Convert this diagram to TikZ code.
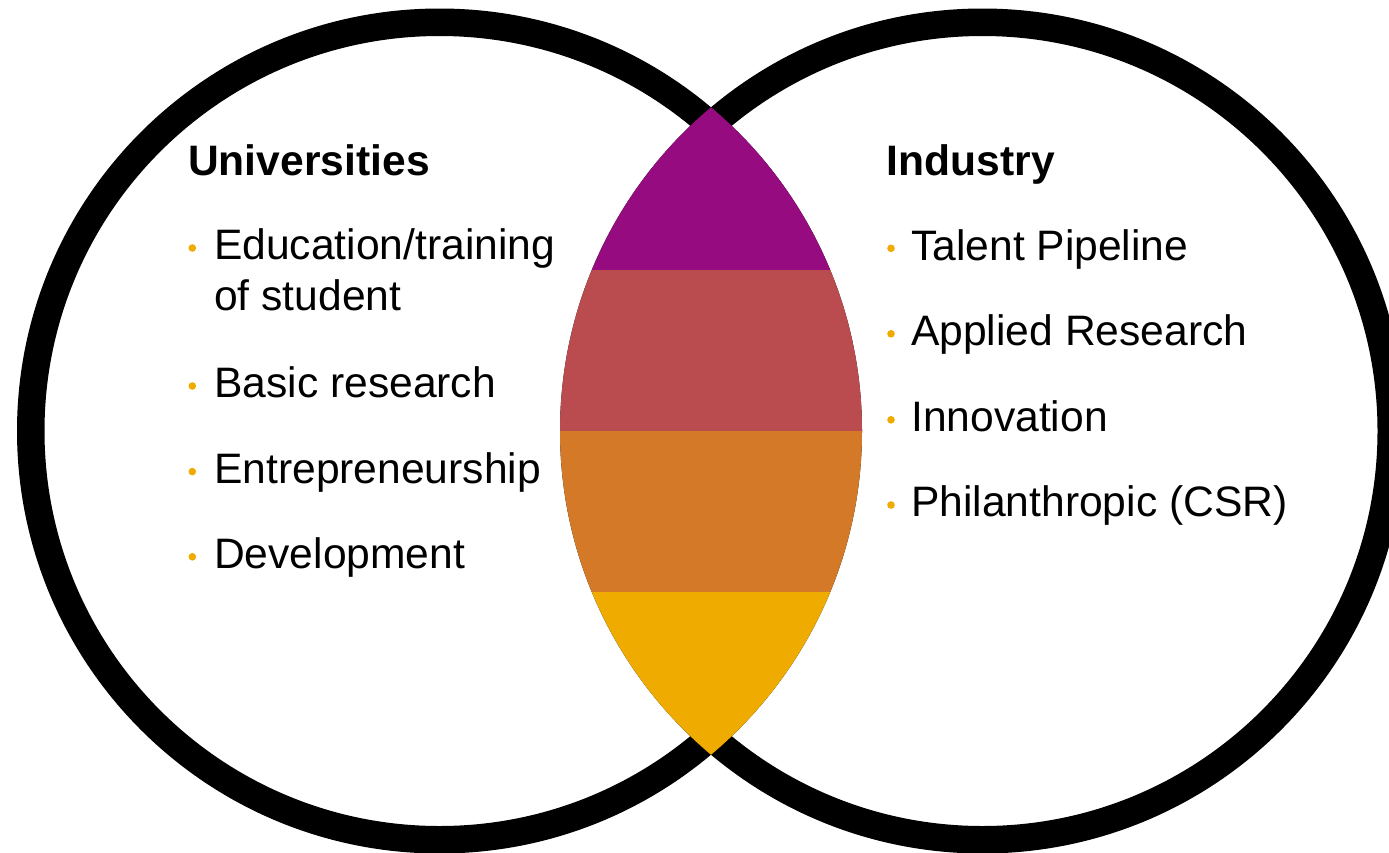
\documentclass[tikz,border=0pt]{standalone}
\usepackage{fontspec}
\setmainfont{Liberation Sans}
\definecolor{lpurple}{HTML}{960C80}
\definecolor{lred}{HTML}{BA4B4E}
\definecolor{lorange}{HTML}{D47928}
\definecolor{lyellow}{HTML}{F0AB00}
\definecolor{bulletc}{HTML}{F0AB00}
\tikzset{
  ring/.style={draw=black, line width=27.5pt},
  title/.style={anchor=base west, inner sep=0pt, font=\fontsize{42.6}{43}\selectfont\bfseries},
  item/.style={anchor=base west, inner sep=0pt, font=\fontsize{42.6}{43}\selectfont},
  dot/.style={fill=bulletc}
}
\begin{document}
\begin{tikzpicture}[x=1pt,y=-1pt]
\useasboundingbox (0,0) rectangle (1389,852);
\clip (0,0) rectangle (1389,852);
\fill[white] (0,0) rectangle (1389,852);
\coordinate (cl) at (439.5,431);
\coordinate (cr) at (982.5,431);
% rings
\draw[ring] (cl) circle[radius=408.75pt];
\draw[ring] (cr) circle[radius=408.75pt];
% lens
\begin{scope}
  \clip (cl) circle[radius=422.5pt];
  \clip (cr) circle[radius=422.5pt];
  \fill[lpurple] (540,90) rectangle (880,269.5);
  \fill[lred]    (540,269.5) rectangle (880,430.5);
  \fill[lorange] (540,430.5) rectangle (880,591.5);
  \fill[lyellow] (540,591.5) rectangle (880,770);
\end{scope}
% left text
\node[title] (uni) at (188,175) {Universities};
\node[item] (u1) at (214,259.5) {Education/training};
\node[item] (u1b) at (214,310.2) {of student};
\node[item] (u2) at (214,397.7) {Basic research};
\node[item] (u3) at (214,483.3) {Entrepreneurship};
\node[item] (u4) at (214,568.5) {Development};
\fill[dot] (192.3,248.0) circle[radius=3.8pt];
\fill[dot] (192.3,386.0) circle[radius=3.8pt];
\fill[dot] (192.3,471.6) circle[radius=3.8pt];
\fill[dot] (192.3,556.8) circle[radius=3.8pt];
% right text
\node[title] (ind) at (886.7,175) {Industry};
\node[item] (i1) at (911,260) {Talent Pipeline};
\node[item] (i2) at (911,345.5) {Applied Research};
\node[item] (i3) at (911,431.5) {Innovation};
\node[item] (i4) at (911,516.7) {Philanthropic (CSR)};
\fill[dot] (891,248.3) circle[radius=3.8pt];
\fill[dot] (891,333.8) circle[radius=3.8pt];
\fill[dot] (891,419.8) circle[radius=3.8pt];
\fill[dot] (891,505.0) circle[radius=3.8pt];
\end{tikzpicture}
\end{document}
